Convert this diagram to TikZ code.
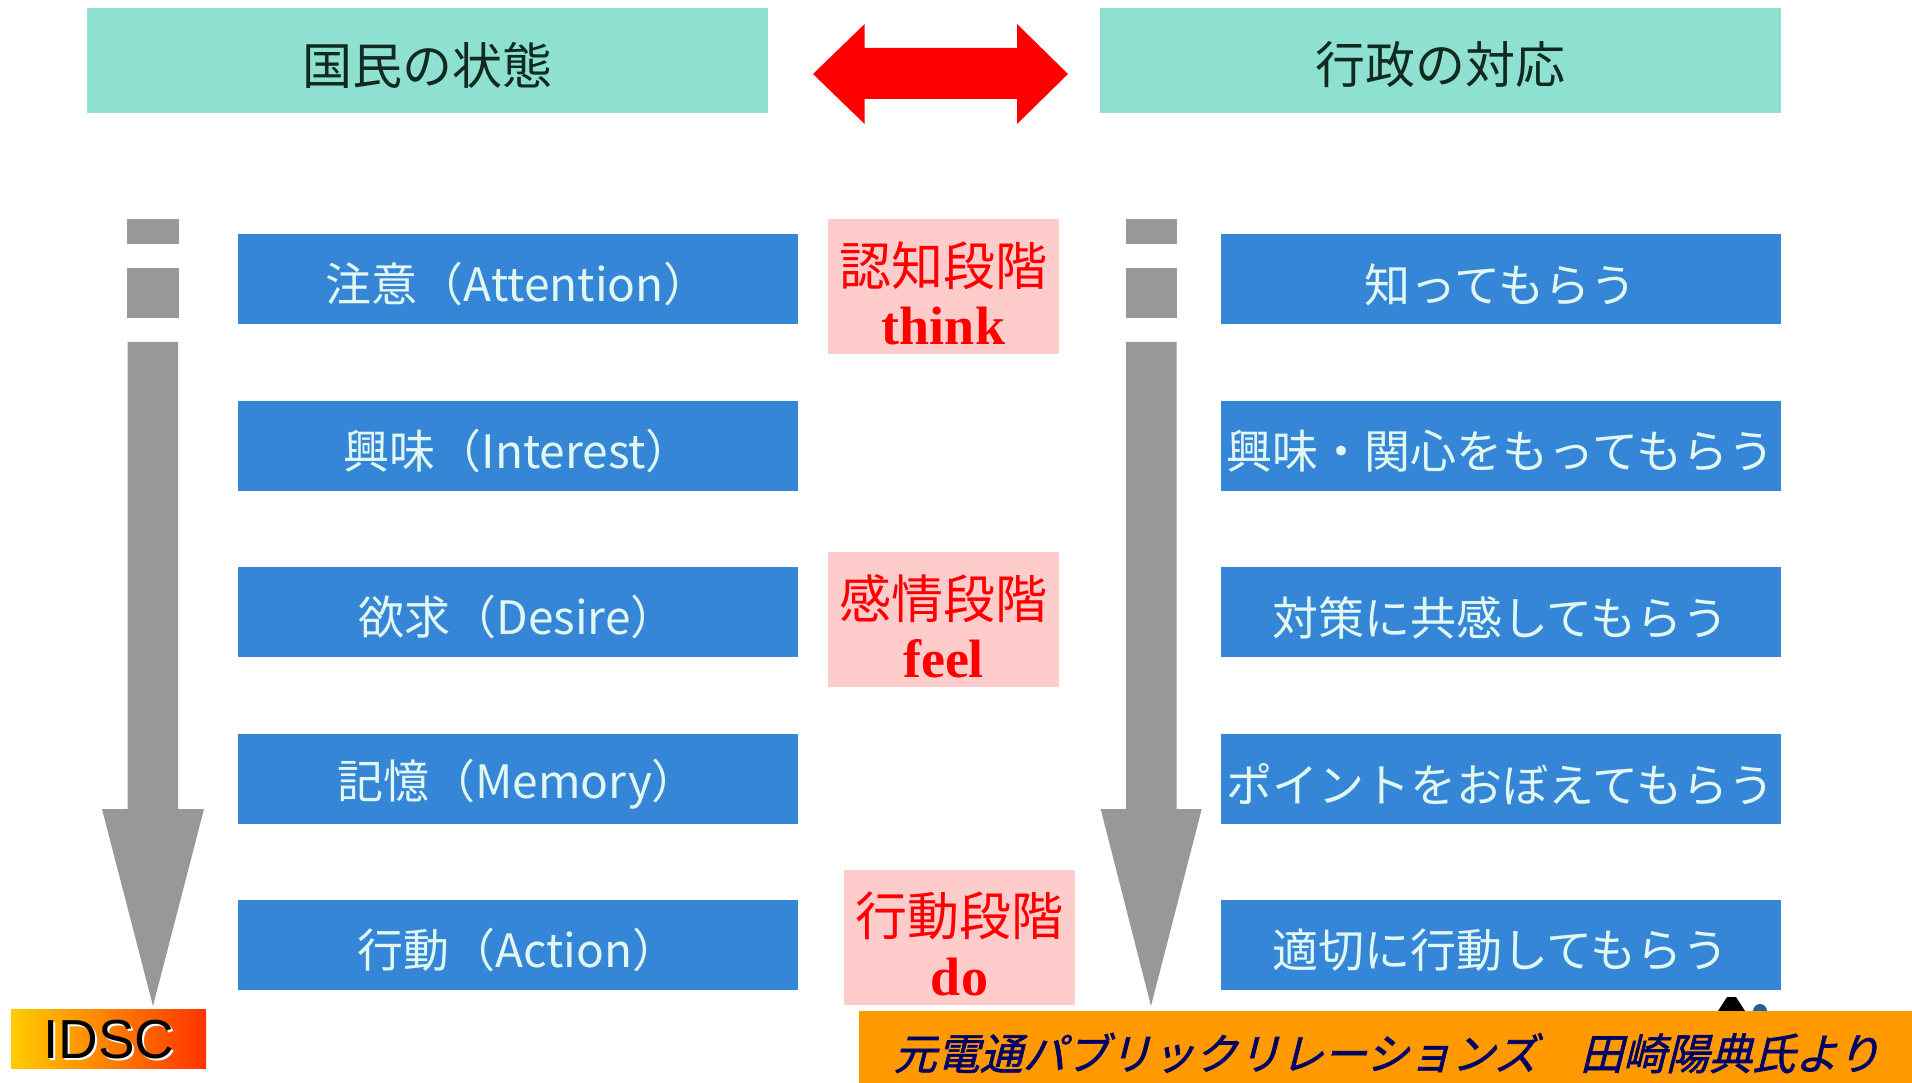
\documentclass[tikz,border=0pt]{standalone}
\usepackage{fontspec}
\setmainfont{Liberation Sans}
\newfontfamily\jp{Noto Sans CJK JP}
\newfontfamily\jpit[FakeSlant=0.25,FakeBold=1.5]{Noto Sans CJK JP}
\newfontfamily\ser{Liberation Serif}
\definecolor{mint}{HTML}{8EE1D1}
\definecolor{headtxt}{HTML}{102A20}
\definecolor{boxblue}{HTML}{3686D8}
\definecolor{boxtxt}{HTML}{E0F7F2}
\definecolor{pinkbg}{HTML}{FFCCCC}
\definecolor{arrowgray}{HTML}{989898}
\definecolor{footorange}{HTML}{FF9900}
\definecolor{navy}{HTML}{000066}
\tikzset{
  headbox/.style={fill=mint, inner sep=0pt, minimum width=681pt, minimum height=105pt},
  headtext/.style={font=\jp\fontsize{50}{60}\selectfont, text=headtxt, inner sep=0pt},
  stagebox/.style={fill=boxblue, inner sep=0pt, minimum width=560pt, minimum height=90pt},
  stagetext/.style={font=\jp\fontsize{46}{55}\selectfont, text=boxtxt, inner sep=0pt},
  phasebox/.style={fill=pinkbg, inner sep=0pt, minimum width=231pt, minimum height=135pt},
  phasejp/.style={font=\jp\fontsize{52}{62}\selectfont, text=red, inner sep=0pt},
  phaseen/.style={font=\ser\bfseries\fontsize{54}{64}\selectfont, text=red, inner sep=0pt},
  grayshape/.style={fill=arrowgray}
}
\begin{document}
\begin{tikzpicture}[x=1pt,y=-1pt]
\fill[white] (0,0) rectangle (1912,1083);
\useasboundingbox (0,0) rectangle (1912,1083);

% headers
\node[headbox] (hl) at (427,61) {};
\node[headtext] (hlt) at (427,65) {国民の状態};
\node[headbox] (hr) at (1440,61) {};
\node[headtext] (hrt) at (1440,65) {行政の対応};

% red double arrow
\fill[red] (813,74) -- (864.6,24) -- (864.6,48) -- (1017,48) -- (1017,24) -- (1068,74)
  -- (1017,124) -- (1017,99) -- (864.6,99) -- (864.6,124) -- cycle;

% left gray arrow
\fill[grayshape] (127,219) rectangle (179,244);
\fill[grayshape] (127,268) rectangle (179,318);
\fill[grayshape] (127.5,342) -- (178,342) -- (178,809) -- (204,809) -- (153,1006) -- (102,809) -- (127.5,809) -- cycle;

% right gray arrow
\fill[grayshape] (1126,219) rectangle (1177,244);
\fill[grayshape] (1126,268) rectangle (1177,318);
\fill[grayshape] (1126,342) -- (1176.7,342) -- (1176.7,809) -- (1201.7,809) -- (1151,1006) -- (1100.7,809) -- (1126,809) -- cycle;

% left stage boxes
\node[stagebox] (l1) at (517.75,279) {};
\node[stagetext] (l1t) at (517.75,284.5) {注意（Attention）};
\node[stagebox] (l2) at (517.75,446) {};
\node[stagetext] (l2t) at (517.75,451.5) {興味（Interest）};
\node[stagebox] (l3) at (517.75,612) {};
\node[stagetext] (l3t) at (517.75,617.5) {欲求（Desire）};
\node[stagebox] (l4) at (517.75,779) {};
\node[stagetext] (l4t) at (517.75,784.5) {記憶（Memory）};
\node[stagebox] (l5) at (517.75,945) {};
\node[stagetext] (l5t) at (517.75,950.5) {行動（Action）};

% right stage boxes
\node[stagebox] (r1) at (1500.5,279) {};
\node[stagetext] (r1t) at (1500.5,284.5) {知ってもらう};
\node[stagebox] (r2) at (1500.5,446) {};
\node[stagetext] (r2t) at (1500.5,451.5) {興味・関心をもってもらう};
\node[stagebox] (r3) at (1500.5,612) {};
\node[stagetext] (r3t) at (1500.5,617.5) {対策に共感してもらう};
\node[stagebox] (r4) at (1500.5,779) {};
\node[stagetext] (r4t) at (1500.5,784.5) {ポイントをおぼえてもらう};
\node[stagebox] (r5) at (1500.5,945) {};
\node[stagetext] (r5t) at (1500.5,950.5) {適切に行動してもらう};

% phase boxes
\node[phasebox] (p1) at (943.5,286.5) {};
\node[phasejp] (p1a) at (943.5,266) {認知段階};
\node[phaseen] (p1b) at (943.5,326) {think};

\node[phasebox] (p2) at (943.5,619.5) {};
\node[phasejp] (p2a) at (943.5,599) {感情段階};
\node[phaseen] (p2b) at (943.5,659) {feel};

\node[phasebox] (p3) at (959.5,937.5) {};
\node[phasejp] (p3a) at (959.5,916) {行動段階};
\node[phaseen] (p3b) at (959.5,977) {do};

% small partly hidden figure
\fill[black] (1718,1011) -- (1727,997) -- (1736,997) -- (1745,1011) -- cycle;
\fill[boxblue!70!black] (1760,1011) circle (7);

% footer
\node[fill=footorange, inner sep=0pt, minimum width=1053pt, minimum height=72pt] (foot) at (1385.5,1047) {};
\node[font=\jpit\fontsize{43}{52}\selectfont, text=navy, inner sep=0pt] (foottxt) at (1387,1053) {元電通パブリックリレーションズ　田崎陽典氏より};

% IDSC
\node[left color={rgb,255:red,255;green,204;blue,0}, right color={rgb,255:red,255;green,51;blue,0}, inner sep=0pt, minimum width=195pt, minimum height=59pt] (idsc) at (108.5,1038.5) {};
\node[font=\fontsize{55}{64}\selectfont, text=white, inner sep=0pt] (idscsh) at (111,1042) {IDSC};
\node[font=\fontsize{55}{64}\selectfont, text=black, inner sep=0pt] (idsctxt) at (109,1040) {IDSC};
\end{tikzpicture}
\end{document}
